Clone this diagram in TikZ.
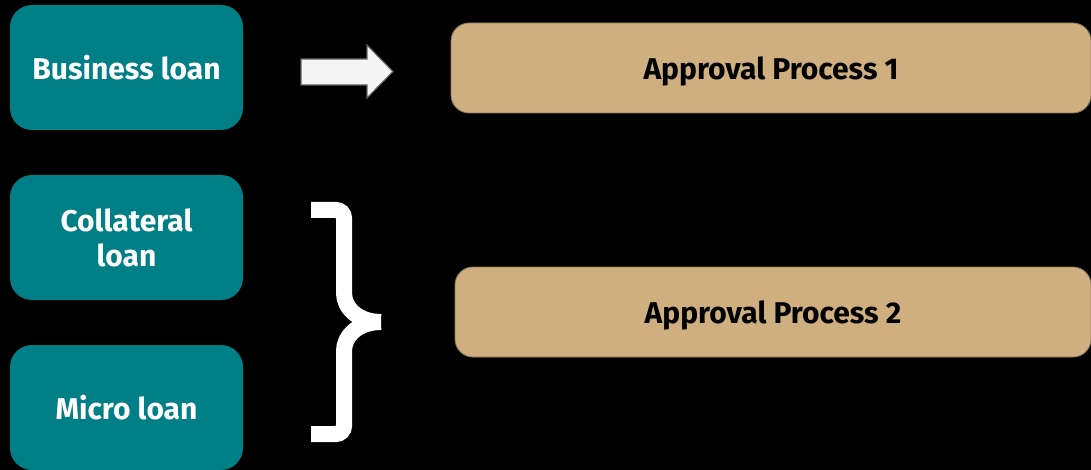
\documentclass[tikz,border=0pt]{standalone}
\usepackage{fontspec}
\setmainfont{Fira Sans}
\usepackage{tikz}
\definecolor{loanteal}{RGB}{0,127,134}
\definecolor{proctan}{RGB}{207,174,128}
\definecolor{arrfill}{RGB}{245,245,245}
\definecolor{arrline}{RGB}{95,95,95}
\tikzset{t/.style={font=\fontsize{30}{35}\selectfont\bfseries,text depth=0pt}}
\tikzset{loan/.style={t,fill=loanteal,rounded corners=22pt,minimum width=233pt,minimum height=125pt,inner sep=0pt,text=white,align=center}}
\tikzset{proc/.style={t,fill=proctan,draw=proctan!70!black,line width=0.8pt,rounded corners=18pt,minimum height=90pt,inner sep=0pt}}

\begin{document}
\begin{tikzpicture}[x=1pt,y=-1pt]
        \useasboundingbox (0,0) rectangle (1091,470);
        \fill[black] (0,0) rectangle (1091,470);
        % loans
        \node[loan] (B) at (126.5,67.5) {Business loan};
        \node[loan] (C) at (126.5,237.5) {Collateral\\loan};
        \node[loan] (M) at (126.5,407.5) {Micro loan};
        % approval processes
        \node[proc,minimum width=640pt] (P1) at (771,68) {Approval Process 1};
        \node[proc,minimum width=636pt] (P2) at (773,312) {Approval Process 2};
        % block arrow
        \filldraw[draw=arrline,fill=arrfill,line width=1.2pt]
          (301,59) -- (367,59) -- (367,45) -- (393,71.5) -- (367,98) -- (367,85) -- (301,85) -- cycle;
        % brace
        \draw[white,line width=16pt,rounded corners=8pt]
          (311,210) -| (344,285) .. controls (344,308) and (358,322) .. (381,322);
        \draw[white,line width=16pt,rounded corners=8pt]
          (311,434) -| (344,359) .. controls (344,336) and (358,322) .. (381,322);
      \end{tikzpicture}
\end{document}
